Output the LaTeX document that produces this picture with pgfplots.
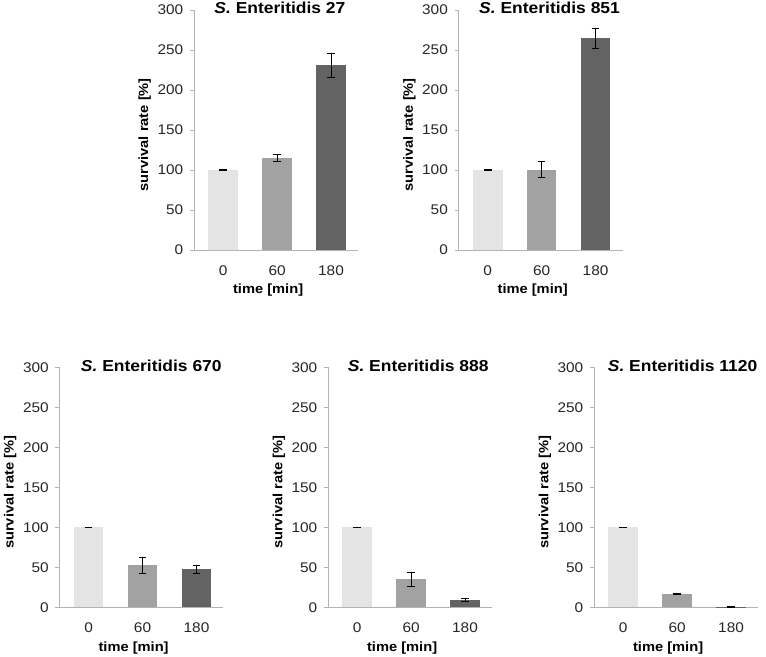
\documentclass[border=0pt]{standalone}
\usepackage{fontspec}
\setmainfont{Liberation Sans}[FakeStretch=1.1]
\usepackage{pgfplots}
\pgfplotsset{compat=1.18}

\definecolor{axisgray}{HTML}{B3B3B3}
\definecolor{bar0}{HTML}{E4E4E4}
\definecolor{bar1}{HTML}{A2A2A2}
\definecolor{bar2}{HTML}{636363}

\pgfplotsset{
  panel/.style={
    width=123pt, height=180pt, scale only axis,
    anchor=south west,
    xmin=-0.54, xmax=2.5, ymin=0, ymax=300,
    axis x line=bottom, axis y line=left,
    axis line style={-, draw=axisgray, line width=0.75pt},
    ytick={0,50,...,300},
    xtick={0,1,2}, xticklabels={0,60,180},
    tick align=outside,
    major tick length=3pt,
    ytick style={draw=axisgray, line width=0.75pt},
    xtick style={draw=none},
    /pgf/number format/assume math mode=true,
    ticklabel style={font=\fontsize{10.5}{12}\selectfont, text=black!85},
    yticklabel style={xshift=-1.5pt},
    xticklabel style={yshift=-5pt},
    xlabel={time [min]}, ylabel={survival rate [\%]},
    label style={font=\bfseries\fontsize{10}{12}\selectfont},
    xlabel style={at={(axis description cs:0.452,-0.167)}, anchor=center},
    ylabel style={at={(axis description cs:-0.3,0.48)}, anchor=center},
    title style={font=\bfseries\fontsize{11.9}{14}\selectfont, anchor=center, yshift=-4.5pt},
    ybar, bar width=0.55,
    error bars/y dir=both, error bars/y explicit,
    error bars/error mark=|,
    error bars/error bar style={draw=black, line width=0.75pt},
    error bars/error mark options={draw=black, mark size=2.9pt, line width=0.75pt},
  },
  b/.style={fill=#1, draw=none, bar shift=0pt},
}

\begin{document}
\begin{tikzpicture}
\useasboundingbox (0,0) rectangle (574.5pt,-492pt);

% S. Enteritidis 27
\begin{axis}[panel, at={(145.5pt,-187.5pt)},
  title={\textit{S.} Enteritidis 27}, title style={at={(axis description cs:0.524,1)}}]
  \addplot[b=bar0] coordinates {(0,100) +- (0,0.4)};
  \addplot[b=bar1] coordinates {(1,115) +- (0,4.7)};
  \addplot[b=bar2] coordinates {(2,231) +- (0,15)};
\end{axis}

% S. Enteritidis 851
\begin{axis}[panel, at={(343.9pt,-187.5pt)},
  title={\textit{S.} Enteritidis 851}, title style={at={(axis description cs:0.555,1)}}]
  \addplot[b=bar0] coordinates {(0,100) +- (0,0.4)};
  \addplot[b=bar1] coordinates {(1,100.5) +- (0,9.7)};
  \addplot[b=bar2] coordinates {(2,265) +- (0,12.5)};
\end{axis}

% S. Enteritidis 670
\begin{axis}[panel, at={(44.6pt,-455.6pt)},
  title={\textit{S.} Enteritidis 670}, title style={at={(axis description cs:0.56,1)}}]
  \addplot[b=bar0] coordinates {(0,100) +- (0,0.4)};
  \addplot[b=bar1] coordinates {(1,52.5) +- (0,9.8)};
  \addplot[b=bar2] coordinates {(2,47.5) +- (0,4.8)};
\end{axis}

% S. Enteritidis 888
\begin{axis}[panel, at={(246pt,-455.6pt)},
  title={\textit{S.} Enteritidis 888}, title style={at={(axis description cs:0.55,1)}}]
  \addplot[b=bar0] coordinates {(0,100) +- (0,0.4)};
  \addplot[b=bar1] coordinates {(1,35) +- (0,9)};
  \addplot[b=bar2] coordinates {(2,9.6) +- (0,2)};
\end{axis}

% S. Enteritidis 1120
\begin{axis}[panel, at={(445.5pt,-455.6pt)},
  title={\textit{S.} Enteritidis 1120}, title style={at={(axis description cs:0.54,1)}}]
  \addplot[b=bar0] coordinates {(0,100) +- (0,0.4)};
  \addplot[b=bar1] coordinates {(1,17) +- (0,0.8)};
  \addplot[b=bar2] coordinates {(2,0.3) +- (0,0.3)};
\end{axis}
\end{tikzpicture}
\end{document}
